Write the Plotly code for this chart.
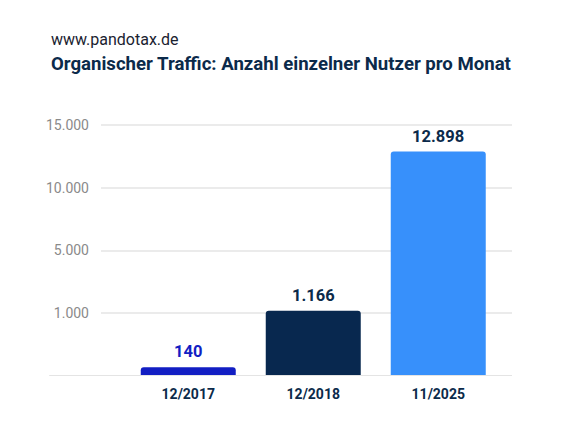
import numpy as np
import plotly.graph_objects as go

# Data
categories = ["12/2017", "12/2018", "11/2025"]
users = [140, 1166, 12898]
bar_colors = ["#121EC3", "#08284F", "#3790FB"]
label_colors = ["#121EC3", "#0B2A4A", "#0B2A4A"]

# the source chart uses an evenly spaced (non-linear) axis: 0, 1.000, 5.000, 10.000, 15.000
tick_values = [0, 1000, 5000, 10000, 15000]
tick_labels = ["", "1.000", "5.000", "10.000", "15.000"]
tick_pos = list(range(len(tick_values)))

NAVY = "#0B2A4A"
GRID = "#EBEBEB"


def to_axis(v):
    return np.interp(v, tick_values, tick_pos)


def de_num(v):
    return f"{v:,}".replace(",", ".")


y_pos = to_axis(users)

fig = go.Figure()
fig.add_trace(go.Bar(
    x=list(range(len(categories))), y=y_pos,
    marker=dict(color=bar_colors, cornerradius=3, line_width=0),
    width=0.76, hoverinfo="skip",
))

for i, (v, p) in enumerate(zip(users, y_pos)):
    fig.add_annotation(
        x=i, y=p, text=f"<b>{de_num(v)}</b>", showarrow=False,
        yanchor="bottom", yshift=4,
        font=dict(family="Roboto", size=16.5, color=label_colors[i]),
    )

# baseline reaching further left than the grid
fig.add_shape(type="line", xref="paper", yref="y", x0=-0.126, x1=1, y0=0, y1=0,
              line=dict(color="#E4E4E4", width=2))

fig.update_xaxes(
    tickvals=list(range(len(categories))), ticktext=[f"<b>{c}</b>" for c in categories],
    range=[-0.698, 2.59], showgrid=False, zeroline=False, showline=False,
    tickfont=dict(family="Roboto", size=14, color=NAVY), ticks="", ticklen=0,
    ticklabelstandoff=8,
)
fig.update_yaxes(
    tickvals=tick_pos, ticktext=tick_labels, range=[0, 4.05],
    showgrid=True, gridcolor=GRID, gridwidth=2, zeroline=False, showline=False,
    tickfont=dict(family="Roboto", size=14, color="#8A8A8A"), ticks="", ticklabelstandoff=11,
)

fig.add_annotation(xref="paper", yref="paper", x=-0.1265, y=1.326, xanchor="left", yanchor="middle",
                   text="www.pandotax.de", showarrow=False,
                   font=dict(family="Roboto", size=16, color="#1A2230"))
fig.add_annotation(xref="paper", yref="paper", x=-0.1265, y=1.2276, xanchor="left", yanchor="middle",
                   text="<b>Organischer Traffic: Anzahl einzelner Nutzer pro Monat</b>", showarrow=False,
                   font=dict(family="Roboto", size=18.6, color=NAVY))

# page body adds an 8px offset, so margins are shifted up/left by 8px
fig.update_layout(
    width=561, height=424,
    margin=dict(l=93, r=57, t=114, b=56),
    paper_bgcolor="white", plot_bgcolor="white",
    showlegend=False, bargap=0.24,
)

fig.write_html("out.html")
